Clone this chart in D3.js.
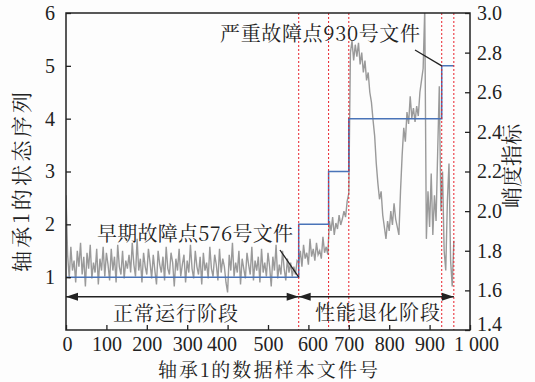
<!DOCTYPE html>
<html>
<head>
<meta charset="utf-8">
<script src="https://cdn.jsdelivr.net/npm/d3@7/dist/d3.min.js"></script>
<style>
  html, body { margin: 0; padding: 0; background: #fdfdfd; }
  svg { display: block; }
  .serif { font-family: "Liberation Serif", "Times New Roman", serif; }
  .cjk { font-family: "Noto Serif CJK SC", "Noto Sans CJK SC", sans-serif; }
</style>
</head>
<body>
<svg id="chart" width="535" height="382"></svg>
<script>
// Kurtosis indicator of bearing 1, one value every fileStep files (file 0 .. 960)
const fileStep = 4;
const kurtosis = [
  // normal running, files 0 - 572
  2.08, 1.78, 1.66, 1.82, 1.70, 1.75, 1.64, 1.80, 1.72, 1.84, 1.68, 1.77, 1.62, 1.79, 1.71, 1.83, 1.66, 1.74, 1.69, 1.81,
  1.63, 1.76, 1.70, 1.82, 1.67, 1.79, 1.73, 1.65, 1.81, 1.70, 1.77, 1.64, 1.83, 1.72, 1.68, 1.80, 1.66, 1.75, 1.71, 1.78,
  1.69, 1.84, 1.73, 1.67, 1.86, 1.70, 1.76, 1.64, 1.79, 1.72, 1.68, 1.81, 1.74, 1.66, 1.78, 1.70, 1.63, 1.80, 1.73, 1.69,
  1.77, 1.65, 1.82, 1.71, 1.68, 1.79, 1.74, 1.62, 1.76, 1.70, 1.81, 1.67, 1.73, 1.78, 1.64, 1.75, 1.69, 1.83, 1.71, 1.66,
  1.80, 1.72, 1.68, 1.77, 1.63, 1.79, 1.70, 1.74, 1.66, 1.82, 1.71, 1.67, 1.78, 1.73, 1.65, 1.81, 1.69, 1.76, 1.72, 1.64,
  1.59, 1.78, 1.70, 1.84, 1.67, 1.74, 1.69, 1.80, 1.63, 1.76, 1.71, 1.66, 1.79, 1.73, 1.68, 1.82, 1.65, 1.75, 1.70, 1.77,
  1.64, 1.81, 1.69, 1.74, 1.67, 1.79, 1.72, 1.62, 1.77, 1.70, 1.83, 1.66, 1.73, 1.68, 1.80, 1.71, 1.65, 1.76, 1.69, 1.74,
  1.67, 1.72, 1.68, 1.75,
  // early fault, files 576 - 648
  1.74, 1.80, 1.72, 1.83, 1.76, 1.79, 1.73, 1.86, 1.77, 1.81, 1.75, 1.84, 1.78, 1.80, 1.76, 1.87, 1.79, 1.82, 1.78,
  // files 652 - 700
  1.95, 1.90, 1.97, 1.88, 1.94, 1.91, 1.98, 1.93, 1.96, 2.00, 1.97, 2.05, 2.09,
  // files 704 - 960
  2.80, 2.86, 2.76, 2.84, 2.78, 2.85, 2.74, 2.80, 2.70, 2.76,
  2.66, 2.70, 2.60, 2.55, 2.46, 2.38, 2.24, 2.14, 2.06, 2.10,
  1.98, 1.92, 1.86, 1.95, 1.90, 2.00, 1.93, 2.04, 1.96, 1.92,
  1.88, 2.10, 2.28, 2.42, 2.35, 2.50, 2.44, 2.58, 2.47, 2.52,
  2.45, 2.53, 2.48, 2.60, 2.66, 2.72,
  3.02, 1.86, 2.10, 1.92, 2.19, 1.88, 2.08, 1.95, 2.30, 2.63,
  2.00, 2.20, 1.80, 1.70, 2.05, 2.24, 1.75, 1.62, 1.85
];

// State sequence (left axis): level holds from each break file to the next
const stateBreaks = [0, 576, 650, 700, 930, 960];
const stateLevels = [1, 2, 3, 4, 5, 5];

// Files where the state changes (red dotted markers)
const markerFiles = [576, 650, 700, 930, 960];

// Stages shown with double arrows
const stageNames = ["正常运行阶段", "性能退化阶段"];
const stageStart = [0, 576];
const stageEnd = [576, 960];

// Tick values and labels
const xTicks = [0, 100, 200, 300, 400, 500, 600, 700, 800, 900, 1000];
const xTickLabels = ["0", "100", "200", "300", "400", "500", "600", "700", "800", "900", "1 000"];
const leftTicks = [1, 2, 3, 4, 5, 6];
const rightTicks = [1.4, 1.6, 1.8, 2.0, 2.2, 2.4, 2.6, 2.8, 3.0];

const earlyFaultFile = 576;
const severeFaultFile = 930;

// ---- layout ----
const svg = d3.select("#chart");
const plotL = 66, plotR = 470, plotT = 13, plotB = 330;
const ink = "#222";

const x = d3.scaleLinear().domain([0, 1000]).range([plotL, plotR]);
const yL = d3.scaleLinear().domain([0, 6]).range([plotB, plotT]);
const yR = d3.scaleLinear().domain([1.4, 3.0]).range([plotB, plotT]);

svg.append("rect").attr("width", 535).attr("height", 382).attr("fill", "#fdfdfd");

svg.append("defs").append("clipPath").attr("id", "plot")
  .append("rect").attr("x", plotL).attr("y", plotT)
  .attr("width", plotR - plotL).attr("height", plotB - plotT);

// kurtosis curve
const kData = kurtosis.map((v, i) => ({ f: i * fileStep, v }));
svg.append("path")
  .datum(kData)
  .attr("clip-path", "url(#plot)")
  .attr("fill", "none")
  .attr("stroke", "#9a9a9a")
  .attr("stroke-width", 1.4)
  .attr("stroke-linejoin", "miter")
  .attr("d", d3.line().x(d => x(d.f)).y(d => yR(d.v)));

// state step line
const sData = stateBreaks.map((f, i) => ({ f, s: stateLevels[i] }));
svg.append("path")
  .datum(sData)
  .attr("fill", "none")
  .attr("stroke", "#4a74b8")
  .attr("stroke-width", 1.5)
  .attr("d", d3.line().curve(d3.curveStepAfter).x(d => x(d.f)).y(d => yL(d.s)));

// red dotted markers
svg.append("g").selectAll("line").data(markerFiles).join("line")
  .attr("x1", d => x(d)).attr("x2", d => x(d))
  .attr("y1", plotT).attr("y2", plotB)
  .attr("stroke", "#e8202a")
  .attr("stroke-width", 1)
  .attr("stroke-dasharray", "2,2");

// axes
const xAxis = d3.axisBottom(x).tickValues(xTicks)
  .tickFormat((d, i) => xTickLabels[i]).tickSize(-5).tickPadding(7).tickSizeOuter(0);
const leftAxis = d3.axisLeft(yL).tickValues(leftTicks)
  .tickFormat(d3.format("d")).tickSize(-5).tickPadding(11).tickSizeOuter(0);
const rightAxis = d3.axisRight(yR).tickValues(rightTicks)
  .tickFormat(d3.format(".1f")).tickSize(-5).tickPadding(7).tickSizeOuter(0);

const gx = svg.append("g").attr("transform", `translate(0,${plotB})`).call(xAxis);
const gl = svg.append("g").attr("transform", `translate(${plotL},0)`).call(leftAxis);
const gr = svg.append("g").attr("transform", `translate(${plotR},0)`).call(rightAxis);

[gx, gl, gr].forEach(g => {
  g.select(".domain").remove();
  g.selectAll(".tick line").attr("stroke", ink).attr("stroke-width", 1.3);
  g.selectAll(".tick text").attr("class", "serif").attr("font-size", 20).attr("fill", ink);
});
// nudge a few crowded labels
const xNudge = { 0: 1, 400: -6, 600: 4, 1000: 6 };
gx.selectAll(".tick text").attr("dx", d => xNudge[d] || 0);
gr.selectAll(".tick text").attr("y", d => d === 1.4 ? -6 : 0);

// frame
svg.append("rect")
  .attr("x", plotL).attr("y", plotT)
  .attr("width", plotR - plotL).attr("height", plotB - plotT)
  .attr("fill", "none").attr("stroke", ink).attr("stroke-width", 1.5);

// stage arrows
const arrowY = yL(0.63);
const head = 12, halfW = 4;
function arrowHead(tipX, dir) {
  return `M${tipX},${arrowY}L${tipX - dir * head},${arrowY - halfW}L${tipX - dir * head},${arrowY + halfW}Z`;
}
stageNames.forEach((name, i) => {
  const x0 = x(stageStart[i]), x1 = x(stageEnd[i]);
  svg.append("line").attr("x1", x0).attr("x2", x1)
    .attr("y1", arrowY).attr("y2", arrowY)
    .attr("stroke", ink).attr("stroke-width", 1.5);
  svg.append("path").attr("d", arrowHead(x0, -1)).attr("fill", ink);
  svg.append("path").attr("d", arrowHead(x1, 1)).attr("fill", ink);
});

function cjkText(str, px, py, width, size) {
  const t = svg.append("text").attr("class", "cjk")
    .attr("x", px).attr("y", py)
    .attr("font-size", size || 20).attr("fill", ink)
    .text(str);
  if (width) t.attr("textLength", width).attr("lengthAdjust", "spacing");
  return t;
}

cjkText(stageNames[0], 113, 321, 125);
cjkText(stageNames[1], 315, 320, 125);

// fault annotations
cjkText("早期故障点576号文件", 97, 241, 196);
svg.append("line")
  .attr("x1", 280).attr("y1", 250)
  .attr("x2", x(earlyFaultFile)).attr("y2", yL(1))
  .attr("stroke", ink).attr("stroke-width", 1.3);

cjkText("严重故障点930号文件", 220, 41, 200);
svg.append("line")
  .attr("x1", 415).attr("y1", 50)
  .attr("x2", x(severeFaultFile)).attr("y2", yL(5))
  .attr("stroke", ink).attr("stroke-width", 1.3);

// axis titles
cjkText("轴承1的数据样本文件号", 158, 377, 220, 19);
svg.append("text").attr("class", "cjk")
  .attr("transform", "translate(29,182) rotate(-90)")
  .attr("text-anchor", "middle")
  .attr("font-size", 21).attr("fill", ink)
  .attr("textLength", 180).attr("lengthAdjust", "spacing")
  .text("轴承1的状态序列");
svg.append("text").attr("class", "cjk")
  .attr("transform", "translate(519,166) rotate(-90)")
  .attr("text-anchor", "middle")
  .attr("font-size", 21).attr("fill", ink)
  .text("峭度指标");
</script>
</body>
</html>
